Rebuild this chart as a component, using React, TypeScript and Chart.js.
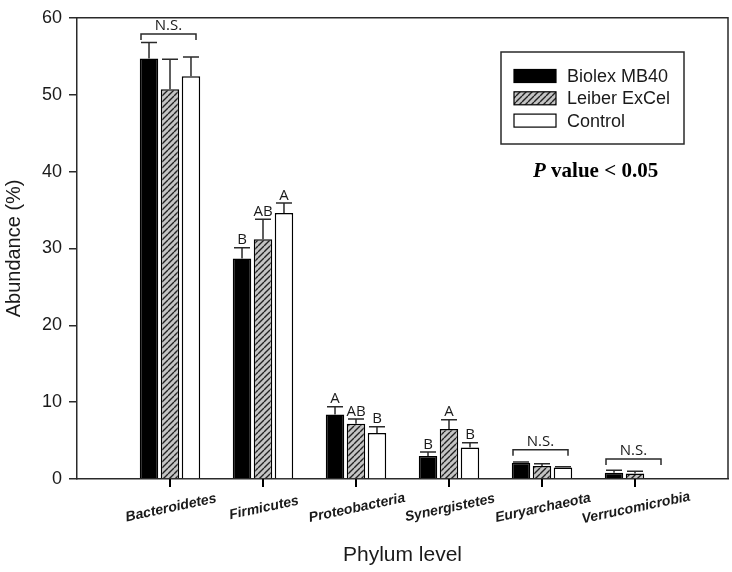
import React, { useEffect, useRef } from 'react';
import { Chart, registerables } from 'chart.js';

Chart.register(...registerables);

const categories = ['Bacteroidetes', 'Firmicutes', 'Proteobacteria', 'Synergistetes', 'Euryarchaeota', 'Verrucomicrobia'];
const seriesNames = ['Biolex MB40', 'Leiber ExCel', 'Control'];
const biolex = [54.7, 28.7, 8.4, 3.0, 2.1, 0.8];
const leiber = [50.7, 31.2, 7.2, 6.5, 1.7, 0.7];
const control = [52.4, 34.6, 6.0, 4.1, 1.5, 0];
const biolexErr = [2.1, 1.4, 1.0, 0.5, 0.1, 0.35];
const leiberErr = [3.9, 2.6, 0.6, 1.2, 0.3, 0.3];
const controlErr = [2.5, 1.3, 0.8, 0.6, 0.1, 0];
const biolexLetters = ['', 'B', 'A', 'B', '', ''];
const leiberLetters = ['', 'AB', 'AB', 'A', '', ''];
const controlLetters = ['', 'A', 'B', 'B', '', ''];
const nsCategories = [0, 4, 5];
const nsLevels = [57.9, 3.8, 2.6];
const yTicks = [0, 10, 20, 30, 40, 50, 60];
const pValueText = ' value < 0.05';

const SANS = '"Liberation Sans", Arial, sans-serif';
const LETTER = '"Open Sans", sans-serif';
const SERIF = '"Liberation Serif", "Times New Roman", serif';
const INK = '#1a1a1a';
const LINE = '#2a2a2a';

function makeHatch(): CanvasPattern | string {
  const s = 6;
  const c = document.createElement('canvas');
  c.width = s;
  c.height = s;
  const g = c.getContext('2d');
  if (!g) return '#999';
  g.fillStyle = '#c4c4c4';
  g.fillRect(0, 0, s, s);
  g.strokeStyle = '#222222';
  g.lineWidth = 1.4;
  g.beginPath();
  for (const k of [-s, 0, s]) {
    g.moveTo(k, s);
    g.lineTo(k + s, 0);
  }
  g.stroke();
  const p = g.createPattern(c, 'repeat');
  return p || '#999';
}

export default function App() {
  const ref = useRef<HTMLCanvasElement | null>(null);

  useEffect(() => {
    document.body.style.margin = '0';
    const canvas = ref.current;
    if (!canvas) return;
    const hatch = makeHatch();
    const labels = ['', ...categories, ''];
    const pad = (a: number[]) => [null, ...a, null];
    const vals = [biolex, leiber, control];
    const errs = [biolexErr, leiberErr, controlErr];
    const letters = [biolexLetters, leiberLetters, controlLetters];
    const fills: any[] = ['#000000', hatch, '#ffffff'];

    const annotate = {
      id: 'annotate',
      afterDraw(chart: any) {
        const ctx = chart.ctx as CanvasRenderingContext2D;
        const { left, right, top, bottom } = chart.chartArea;
        const xs = chart.scales.x;
        const ys = chart.scales.y;
        ctx.save();
        // frame top/right
        ctx.strokeStyle = LINE;
        ctx.lineWidth = 1.5;
        ctx.beginPath();
        ctx.moveTo(left, top);
        ctx.lineTo(right, top);
        ctx.lineTo(right, bottom);
        ctx.stroke();

        // x tick marks at category centres
        ctx.strokeStyle = '#000';
        ctx.lineWidth = 2;
        ctx.beginPath();
        for (let i = 0; i < categories.length; i++) {
          const px = Math.round(xs.getPixelForValue(i + 1));
          ctx.moveTo(px, bottom);
          ctx.lineTo(px, bottom + 8);
        }
        ctx.stroke();

        // error bars and letters
        for (let d = 0; d < 3; d++) {
          const meta = chart.getDatasetMeta(d);
          for (let i = 0; i < categories.length; i++) {
            const el = meta.data[i + 1];
            if (!el) continue;
            const v = vals[d][i];
            const e = errs[d][i];
            const bx = el.x;
            const y0 = ys.getPixelForValue(v);
            const y1 = ys.getPixelForValue(v + e);
            if (e > 0) {
              ctx.strokeStyle = LINE;
              ctx.lineWidth = 1.5;
              ctx.beginPath();
              ctx.moveTo(bx, y0);
              ctx.lineTo(bx, y1);
              ctx.moveTo(bx - 8, y1);
              ctx.lineTo(bx + 8, y1);
              ctx.stroke();
            }
            const t = letters[d][i];
            if (t) {
              ctx.fillStyle = INK;
              ctx.font = `15px ${LETTER}`;
              ctx.textAlign = 'center';
              ctx.textBaseline = 'alphabetic';
              ctx.fillText(t, bx, y1 - 3.5);
            }
          }
        }

        // N.S. brackets
        for (let k = 0; k < nsCategories.length; k++) {
          const cx = xs.getPixelForValue(nsCategories[k] + 1) - 1.5;
          const ly = ys.getPixelForValue(nsLevels[k]);
          const hw = 27.5;
          ctx.strokeStyle = LINE;
          ctx.lineWidth = 1.5;
          ctx.beginPath();
          ctx.moveTo(cx - hw, ly + 6);
          ctx.lineTo(cx - hw, ly);
          ctx.lineTo(cx + hw, ly);
          ctx.lineTo(cx + hw, ly + 6);
          ctx.stroke();
          ctx.fillStyle = INK;
          ctx.font = `15px ${LETTER}`;
          ctx.textAlign = 'center';
          ctx.textBaseline = 'alphabetic';
          ctx.fillText('N.S.', cx, ly - 4);
        }

        // rotated category labels
        ctx.font = `italic bold 14px ${SANS}`;
        ctx.fillStyle = INK;
        ctx.textAlign = 'center';
        ctx.textBaseline = 'middle';
        for (let i = 0; i < categories.length; i++) {
          const px = xs.getPixelForValue(i + 1);
          ctx.save();
          ctx.translate(px + 1, bottom + 29);
          ctx.rotate((-12 * Math.PI) / 180);
          ctx.fillText(categories[i], 0, 0);
          ctx.restore();
        }

        // legend
        ctx.strokeStyle = LINE;
        ctx.lineWidth = 1.5;
        ctx.strokeRect(501, 52, 183, 92);
        const rowY = [76, 98.3, 120.6];
        for (let d = 0; d < 3; d++) {
          const ry = rowY[d];
          ctx.fillStyle = fills[d];
          ctx.fillRect(514, ry - 6.5, 42, 13);
          ctx.strokeStyle = '#000';
          ctx.lineWidth = 1.2;
          ctx.strokeRect(514, ry - 6.5, 42, 13);
          ctx.fillStyle = INK;
          ctx.font = `18px ${SANS}`;
          ctx.textAlign = 'left';
          ctx.textBaseline = 'middle';
          ctx.fillText(seriesNames[d], 567, ry + 1);
        }

        // P value
        ctx.fillStyle = '#000';
        ctx.textAlign = 'left';
        ctx.textBaseline = 'alphabetic';
        ctx.font = `italic bold 21px ${SERIF}`;
        const px0 = 533;
        ctx.fillText('P', px0, 177);
        const pw = ctx.measureText('P').width;
        ctx.font = `bold 21px ${SERIF}`;
        ctx.fillText(pValueText, px0 + pw, 177);
        ctx.restore();
      },
    };

    const chart = new Chart(canvas, {
      type: 'bar',
      data: {
        labels,
        datasets: seriesNames.map((name, d) => ({
          label: name,
          data: pad(vals[d]) as any,
          backgroundColor: fills[d],
          borderColor: '#000',
          borderWidth: 1.5,
          categoryPercentage: 0.677,
          barPercentage: 0.88,
        })),
      },
      options: {
        responsive: false,
        devicePixelRatio: 1,
        animation: false,
        layout: { padding: { top: 11, right: 4, left: 0, bottom: 0 } },
        plugins: { legend: { display: false }, tooltip: { enabled: false } },
        scales: {
          x: {
            type: 'category',
            offset: false,
            grid: { display: false },
            border: { display: true, color: LINE, width: 1.5 },
            ticks: { color: 'rgba(0,0,0,0)', autoSkip: false, maxRotation: 0, minRotation: 0 },
            title: {
              display: true,
              text: 'Phylum level',
              color: INK,
              font: { family: SANS, size: 21 },
              padding: { top: 0, bottom: 4 },
            },
            afterFit: (s: any) => {
              s.height = 93;
            },
          },
          y: {
            min: 0,
            max: 60,
            grid: { drawOnChartArea: false, drawTicks: true, tickLength: 8, lineWidth: 1.5, color: LINE },
            border: { color: LINE, width: 1.5 },
            ticks: { color: INK, font: { family: SANS, size: 18 }, padding: 7 },
            afterBuildTicks: (s: any) => {
              s.ticks = yTicks.map((v) => ({ value: v }));
            },
            title: {
              display: true,
              text: 'Abundance (%)',
              color: INK,
              font: { family: SANS, size: 20 },
              padding: { top: 2, bottom: 0 },
            },
            afterFit: (s: any) => {
              s.width = 77;
            },
          },
        },
      },
      plugins: [annotate],
    });
    return () => chart.destroy();
  }, []);

  return (
    <div style={{ width: 732, height: 572 }}>
      <canvas ref={ref} width={732} height={572} />
    </div>
  );
}
